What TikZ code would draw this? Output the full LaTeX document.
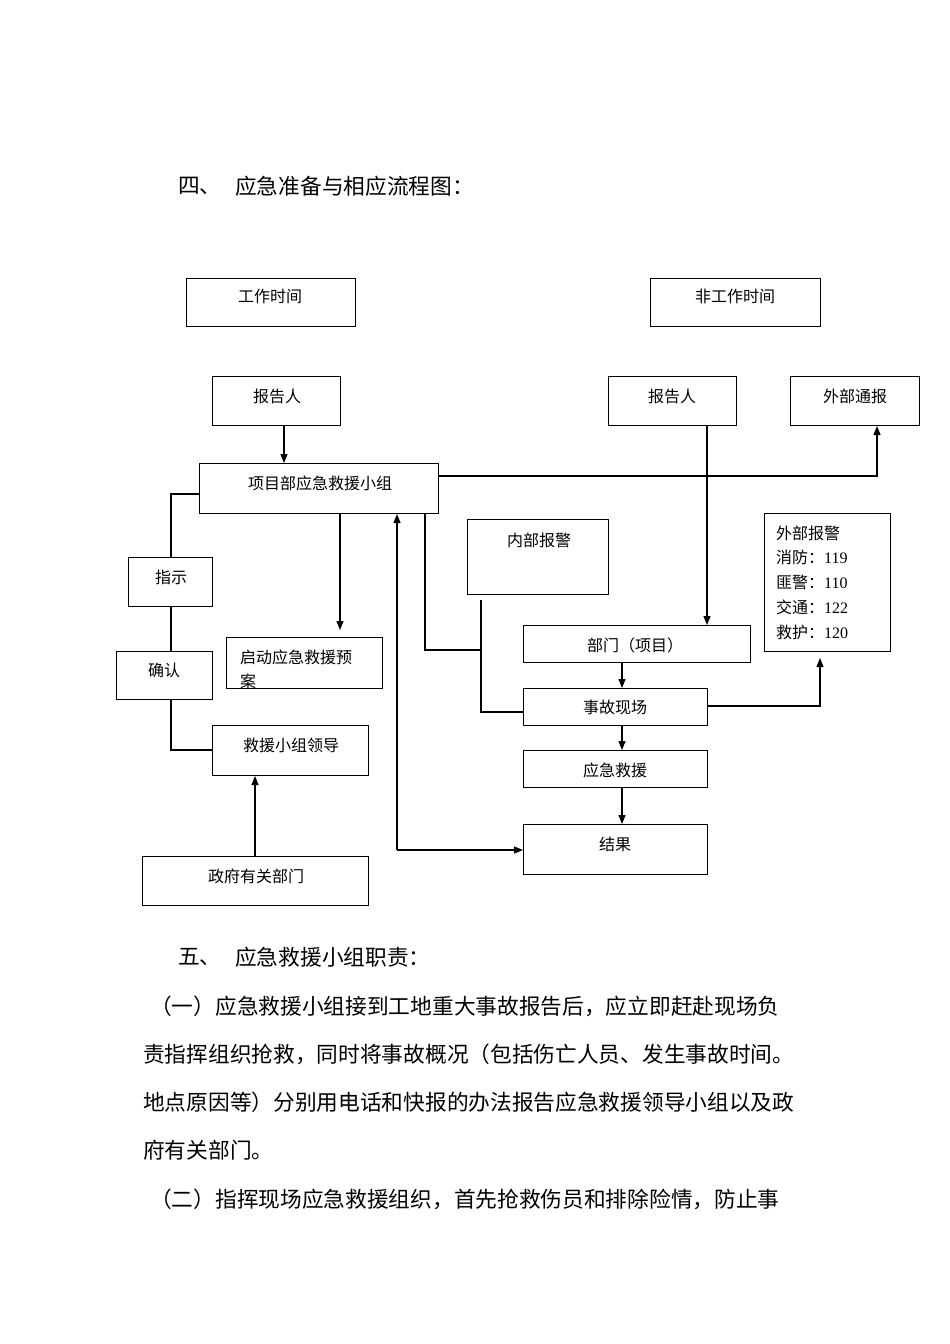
\documentclass[tikz,border=0pt]{standalone}
\usepackage{fontspec}
\setmainfont{Liberation Serif}
\newfontfamily\cjk{Noto Sans CJK SC}
\usetikzlibrary{arrows.meta}
\begin{document}
\begin{tikzpicture}[x=1pt,y=-1pt,
  box/.style={draw,line width=1pt,inner sep=0pt},
  lbl/.style={inner sep=0pt,font=\cjk\fontsize{16}{19}\selectfont},
  body/.style={inner sep=0pt,anchor=west,font=\cjk\fontsize{21.7}{26}\selectfont},
  ln/.style={line width=1.2pt},
  ar/.style={line width=1.2pt,-{Triangle[length=9pt,width=7pt]}}]
\useasboundingbox[fill=white] (0,0) rectangle (950,1344);
\newcommand{\mybox}[5]{%
  \node[box,anchor=north west,minimum width=#4-#2,minimum height=#5-#3] (#1) at (#2,#3) {};}
\mybox{gz}{186}{278}{355}{326}
\mybox{fgz}{650}{278}{820}{326}
\mybox{bgl}{212}{376}{340}{425}
\mybox{bgr}{608}{376}{736}{425}
\mybox{wbtb}{790}{376}{919}{425}
\mybox{xmb}{199}{463}{438}{513}
\mybox{zs}{128}{557}{212}{606}
\mybox{qr}{116}{651}{212}{699}
\mybox{qd}{226}{637}{382}{688}
\mybox{ld}{212}{725}{368}{775}
\mybox{zf}{142}{856}{368}{905}
\mybox{nb}{467}{519}{608}{594}
\mybox{wb}{764}{513}{890}{651}
\mybox{bm}{523}{625}{750}{662}
\mybox{sg}{523}{688}{707}{725}
\mybox{yj}{523}{750}{707}{787}
\mybox{jg}{523}{824}{707}{874}
% labels
\node[lbl] (t1) at (270,296) {工作时间};
\node[lbl] (t2) at (735,296) {非工作时间};
\node[lbl] (t3) at (277,396) {报告人};
\node[lbl] (t4) at (672,396) {报告人};
\node[lbl] (t5) at (855,396) {外部通报};
\node[lbl] (t6) at (320,483) {项目部应急救援小组};
\node[lbl] (t7) at (171,577) {指示};
\node[lbl] (t8) at (164,670) {确认};
\node[lbl,anchor=west] (t9) at (240,657) {启动应急救援预};
\node[lbl,anchor=west] (t9b) at (240,681) {案};
\node[lbl] (t10) at (291,745) {救援小组领导};
\node[lbl] (t11) at (256,876) {政府有关部门};
\node[lbl] (t12) at (539,540) {内部报警};
\node[lbl,anchor=west] (w1) at (776,533) {外部报警};
\node[lbl,anchor=west] (w2) at (776,557) {消防：{\rmfamily 119}};
\node[lbl,anchor=west] (w3) at (776,582) {匪警：{\rmfamily 110}};
\node[lbl,anchor=west] (w4) at (776,607) {交通：{\rmfamily 122}};
\node[lbl,anchor=west] (w5) at (776,632) {救护：{\rmfamily 120}};
\node[lbl] (t13) at (635,645) {部门（项目）};
\node[lbl] (t14) at (615,707) {事故现场};
\node[lbl] (t15) at (615,770) {应急救援};
\node[lbl] (t16) at (615,844) {结果};
% connectors
\draw[ar] (bgl.south-|284,0) -- (xmb.north-|284,0);
\draw[ar] (xmb.east|-0,476) -- (877,476) -- (wbtb.south-|877,0);
\draw[ar] (bgr.south-|707,0) -- (bm.north-|707,0);
\draw[ln] (xmb.west|-0,494) -- (171,494) -- (zs.north-|171,0);
\draw[ln] (zs.south-|171,0) -- (qr.north-|171,0);
\draw[ln] (qr.south-|171,0) -- (171,750) -- (ld.west|-0,750);
\draw[ar] (xmb.south-|340,0) -- (340,630);
\draw[ar] (zf.north-|255,0) -- (ld.south-|255,0);
\coordinate (c1) at (397,850);
\draw[ar] (c1) -- (xmb.south-|c1);
\draw[ar] (c1) -- (jg.west|-c1);
\draw[ln] (xmb.south-|425,0) -- (425,650) -- (481,650);
\draw[ln] (481,600) -- (481,712) -- (sg.west|-0,712);
\draw[ar] (bm.south-|622,0) -- (sg.north-|622,0);
\draw[ar] (sg.south-|622,0) -- (yj.north-|622,0);
\draw[ar] (yj.south-|622,0) -- (jg.north-|622,0);
\draw[ar] (sg.east|-0,706) -- (820,706) -- (820,658);
% text
\node[body] (h4a) at (178,186) {四、};
\node[body] (h4) at (235,186) {应急准备与相应流程图：};
\node[body] (h5a) at (178,957) {五、};
\node[body] (h5) at (235,957) {应急救援小组职责：};
\node[body] (p1) at (150,1006) {（一）应急救援小组接到工地重大事故报告后，应立即赶赴现场负};
\node[body] (p2) at (143,1054) {责指挥组织抢救，同时将事故概况（包括伤亡人员、发生事故时间。};
\node[body] (p3) at (143,1102) {地点原因等）分别用电话和快报的办法报告应急救援领导小组以及政};
\node[body] (p4) at (143,1150) {府有关部门。};
\node[body] (p5) at (150,1199) {（二）指挥现场应急救援组织，首先抢救伤员和排除险情，防止事};
\end{tikzpicture}
\end{document}
